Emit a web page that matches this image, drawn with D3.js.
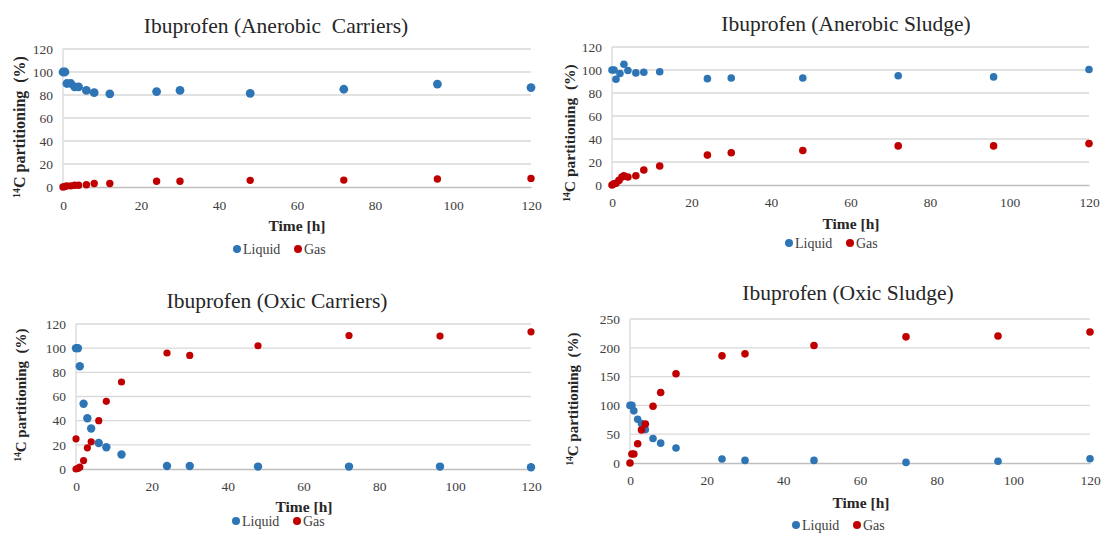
<!DOCTYPE html>
<html><head><meta charset="utf-8">
<script src="https://cdn.jsdelivr.net/npm/d3@7/dist/d3.min.js"></script>
<style>
body{margin:0;background:#fff;}
svg{display:block;}
svg text{font-family:"Liberation Serif","Times New Roman",serif !important;}
</style></head>
<body><svg id="c" width="1103" height="536"></svg>
<script>
// ---- data ----
const titles = ["Ibuprofen (Anerobic  Carriers)", "Ibuprofen (Anerobic Sludge)", "Ibuprofen (Oxic Carriers)", "Ibuprofen (Oxic Sludge)"];
const seriesNames = ["Liquid", "Gas"];
const xTicks = [0, 20, 40, 60, 80, 100, 120];
const yTicks120 = [0, 20, 40, 60, 80, 100, 120];
const yTicks250 = [0, 50, 100, 150, 200, 250];

const timeStd = [0, 0.5, 1, 2, 3, 4, 6, 8, 12, 24, 30, 48, 72, 96, 120];

// Anaerobic carriers
const acLiquid = [100, 100, 90, 90, 87, 87, 84, 82, 81, 83, 84, 81.5, 85, 89.5, 86.5];
const acGas    = [0, 0.5, 1, 1, 1.5, 1.5, 2, 3, 3, 5, 5, 5.8, 6, 7, 7.5];

// Anaerobic sludge
const asLiquid = [100, 100, 92, 97, 105, 99.5, 97.5, 98, 98.5, 92.5, 93, 93, 95, 94, 100.5];
const asGasTime = [0, 0.5, 1, 1.75, 2.5, 3, 4, 6, 8, 12, 24, 30, 48, 72, 96, 120];
const asGas    = [0, 1, 1.5, 4, 7, 8, 7, 8, 13, 16.5, 26, 28, 30, 34, 34, 36];

// Oxic carriers
const ocLiquid = [100, 100, 85, 54, 42, 33.5, 21.5, 18, 12, 2.5, 2.5, 2, 2, 2, 1.5];
const ocGasTime = [0, 0, 0.5, 1, 2, 3, 4, 6, 8, 12, 24, 30, 48, 72, 96, 120];
const ocGas    = [25, 0, 0.5, 1.5, 7, 17.5, 22.5, 40, 56, 72, 96, 94, 102, 110.5, 110, 113.5];

// Oxic sludge
const osLiquid = [100, 100, 90.5, 76, 68.5, 58, 42.5, 34.5, 26, 7, 4.5, 4.5, 1, 3, 7.5];
const osGas    = [0, 15.5, 15.5, 33.5, 57.5, 67.5, 98.5, 122.5, 155, 186, 189.5, 204, 219, 220.5, 227.5];

// ---- layout ----
const panels = [
  {title: titles[0], x0: 63, x1: 531, yb: 187, yt: 49, ymax: 120, yticks: yTicks120,
   lt: timeStd, lv: acLiquid, gt: timeStd, gv: acGas,
   tx: 276, ty: 33, ylx: 20, yly: 127, ylfs: 16, xlx: 297, xly: 231, lgx: 237, lgy: 249, rl: 4.4, rg: 3.7, tickX: 205},
  {title: titles[1], x0: 612, x1: 1089, yb: 185, yt: 47, ymax: 120, yticks: yTicks120,
   lt: timeStd, lv: asLiquid, gt: asGasTime, gv: asGas,
   tx: 846, ty: 31, ylx: 570, yly: 133, ylfs: 15.5, xlx: 851, xly: 229, lgx: 789, lgy: 243, rl: 3.8, rg: 3.8, tickX: 202},
  {title: titles[2], x0: 76, x1: 531, yb: 469, yt: 324, ymax: 120, yticks: yTicks120,
   lt: timeStd, lv: ocLiquid, gt: ocGasTime, gv: ocGas,
   tx: 277, ty: 308, ylx: 21, yly: 395, ylfs: 15, xlx: 304, xly: 512, lgx: 236, lgy: 521, rl: 4.2, rg: 3.6, tickX: 486},
  {title: titles[3], x0: 630, x1: 1090, yb: 463, yt: 319, ymax: 250, yticks: yTicks250,
   lt: timeStd, lv: osLiquid, gt: timeStd, gv: osGas,
   tx: 848, ty: 300, ylx: 573, yly: 399, ylfs: 15, xlx: 861, xly: 508, lgx: 796, lgy: 525, rl: 3.8, rg: 3.8, tickX: 480}
];

const colors = {Liquid: "#2E75B6", Gas: "#C00000"};
const svg = d3.select("#c");

panels.forEach(p => {
  const x = d3.scaleLinear().domain([0, 120]).range([p.x0, p.x1]);
  const y = d3.scaleLinear().domain([0, p.ymax]).range([p.yb, p.yt]);
  const g = svg.append("g");

  // gridlines
  g.append("g").selectAll("line").data(p.yticks.filter(t => t > 0)).join("line")
    .attr("x1", p.x0).attr("x2", p.x1).attr("y1", d => y(d)).attr("y2", d => y(d))
    .attr("stroke", "#d9d9d9").attr("stroke-width", 1.3);
  // left line
  g.append("line").attr("x1", p.x0).attr("x2", p.x0).attr("y1", p.yt).attr("y2", p.yb)
    .attr("stroke", "#d9d9d9").attr("stroke-width", 1.3);

  // y axis
  const ya = g.append("g").attr("transform", `translate(${p.x0},0)`)
    .call(d3.axisLeft(y).tickValues(p.yticks).tickSize(0).tickPadding(10).tickFormat(d3.format("d")));
  ya.select(".domain").remove();
  ya.selectAll("text").attr("font-size", 13.5).attr("fill", "#404040");

  // x axis
  const xa = g.append("g").attr("transform", `translate(0,${p.yb})`)
    .call(d3.axisBottom(x).tickValues(xTicks).tickSize(0).tickPadding(0).tickFormat(d3.format("d")));
  xa.select(".domain").attr("stroke", "#bfbfbf").attr("stroke-width", 1.4);
  xa.selectAll("text").attr("font-size", 13.5).attr("fill", "#404040")
    .attr("dy", null).attr("y", p.tickX - p.yb + 5);

  // points
  g.append("g").selectAll("circle").data(p.lt.map((t, i) => [t, p.lv[i]])).join("circle")
    .attr("cx", d => x(d[0])).attr("cy", d => y(d[1])).attr("r", p.rl).attr("fill", colors.Liquid);
  g.append("g").selectAll("circle").data(p.gt.map((t, i) => [t, p.gv[i]])).join("circle")
    .attr("cx", d => x(d[0])).attr("cy", d => y(d[1])).attr("r", p.rg).attr("fill", colors.Gas);

  // title
  g.append("text").attr("x", p.tx).attr("y", p.ty).attr("text-anchor", "middle")
    .attr("font-size", 21.5).attr("fill", "#262626")
    .style("white-space", "pre").text(p.title);

  // x label
  g.append("text").attr("x", p.xlx).attr("y", p.xly).attr("text-anchor", "middle")
    .attr("font-size", 15.5).attr("font-weight", "bold").attr("fill", "#262626").text("Time [h]");

  // y label
  const yl = g.append("text").attr("transform", `translate(${p.ylx + 5},${p.yly}) rotate(-90)`)
    .attr("text-anchor", "middle").attr("font-size", p.ylfs).attr("font-weight", "bold")
    .attr("fill", "#262626").style("white-space", "pre");
  yl.append("tspan").attr("font-size", p.ylfs * 0.62).attr("dy", -5).text("14");
  yl.append("tspan").attr("dy", 5).text("C partitioning  (%)");

  // legend
  const lg = g.append("g");
  seriesNames.forEach((s, i) => {
    const cx = p.lgx + i * 61;
    lg.append("circle").attr("cx", cx).attr("cy", p.lgy).attr("r", 4).attr("fill", colors[s]);
    lg.append("text").attr("x", cx + 6).attr("y", p.lgy + 5).attr("font-size", 14)
      .attr("fill", "#404040").text(s);
  });
});
</script></body></html>
